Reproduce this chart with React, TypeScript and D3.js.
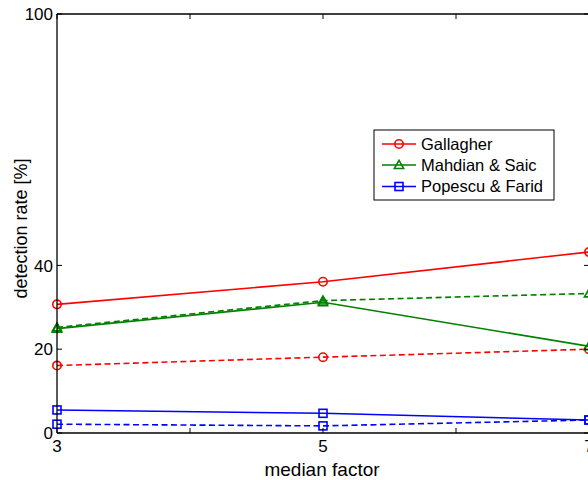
import React from "react";
import * as d3 from "d3";

const medianFactors = [3, 5, 7];
const xTicks = [3, 4, 5, 6, 7];
const xTickLabels = ["3", "", "5", "", "7"];
const yTicks = [0, 20, 40, 100];

const gallagherSolid = [30.7, 36.1, 43.2];
const gallagherDashed = [16.1, 18.1, 20.0];
const mahdianSolid = [24.9, 31.2, 20.7];
const mahdianDashed = [25.2, 31.6, 33.3];
const popescuSolid = [5.5, 4.7, 3.1];
const popescuDashed = [2.1, 1.7, 3.1];

type Marker = "circle" | "triangle" | "square";

const seriesList: { name: string; values: number[]; color: string; dashed: boolean; marker: Marker }[] = [
  { name: "Gallagher", values: gallagherSolid, color: "#ff0000", dashed: false, marker: "circle" },
  { name: "Gallagher", values: gallagherDashed, color: "#ff0000", dashed: true, marker: "circle" },
  { name: "Mahdian & Saic", values: mahdianSolid, color: "#008000", dashed: false, marker: "triangle" },
  { name: "Mahdian & Saic", values: mahdianDashed, color: "#008000", dashed: true, marker: "triangle" },
  { name: "Popescu & Farid", values: popescuSolid, color: "#0000ff", dashed: false, marker: "square" },
  { name: "Popescu & Farid", values: popescuDashed, color: "#0000ff", dashed: true, marker: "square" },
];

const legendEntries = [
  { name: "Gallagher", color: "#ff0000", marker: "circle" as Marker },
  { name: "Mahdian & Saic", color: "#008000", marker: "triangle" as Marker },
  { name: "Popescu & Farid", color: "#0000ff", marker: "square" as Marker },
];

const W = 588;
const H = 480;
const plot = { left: 57, top: 14, right: 589, bottom: 433 };
const font = "Liberation Sans, Arial, Helvetica, sans-serif";

function MarkerShape({ kind, x, y, color }: { kind: Marker; x: number; y: number; color: string }) {
  if (kind === "circle") {
    return <circle cx={x} cy={y} r={4.2} fill="none" stroke={color} strokeWidth={1.6} />;
  }
  if (kind === "square") {
    return <rect x={x - 4} y={y - 4} width={8} height={8} fill="none" stroke={color} strokeWidth={1.6} />;
  }
  const s = 4.6;
  const pts = `${x},${y - s} ${x - s},${y + s * 0.75} ${x + s},${y + s * 0.75}`;
  return <polygon points={pts} fill="none" stroke={color} strokeWidth={1.6} />;
}

export default function App() {
  const x = d3.scaleLinear().domain([3, 7]).range([plot.left, plot.right]);
  const y = d3.scaleLinear().domain([0, 100]).range([plot.bottom, plot.top]);
  const line = d3
    .line<number>()
    .x((_, i) => x(medianFactors[i]))
    .y((v) => y(v));

  const legend = { x: 374, y: 130, w: 180, h: 70 };
  const rowY = [144, 165, 186.5];

  return (
    <svg
      width={W}
      height={H}
      style={{ position: "absolute", left: 0, top: 0, background: "#fff" }}
      fontFamily={font}
    >
      <rect x={0} y={0} width={W} height={H} fill="#fff" />

      {/* series lines */}
      <g>
        {seriesList.map((s, k) => (
          <g key={k}>
            <path
              d={line(s.values) || ""}
              fill="none"
              stroke={s.color}
              strokeWidth={1.6}
              strokeDasharray={s.dashed ? "6,3.5" : undefined}
            />
            {s.values.map((v, i) => (
              <MarkerShape key={i} kind={s.marker} x={x(medianFactors[i])} y={y(v)} color={s.color} />
            ))}
          </g>
        ))}
      </g>

      {/* axes frame */}
      <g stroke="#000" strokeWidth={1.3} fill="none">
        <line x1={plot.left} y1={plot.top} x2={plot.right} y2={plot.top} />
        <line x1={plot.left} y1={plot.top} x2={plot.left} y2={plot.bottom} />
        <line x1={plot.left} y1={plot.bottom} x2={plot.right} y2={plot.bottom} />
        <line x1={plot.right} y1={plot.top} x2={plot.right} y2={plot.bottom} />
      </g>

      {/* y ticks */}
      <g>
        {yTicks.map((t) => (
          <g key={t}>
            <line x1={plot.left} x2={plot.left + 5} y1={y(t)} y2={y(t)} stroke="#000" strokeWidth={1} />
            <line x1={plot.right} x2={plot.right - 5} y1={y(t)} y2={y(t)} stroke="#000" strokeWidth={1} />
            <text x={plot.left - 4} y={y(t)} dy="0.36em" textAnchor="end" fontSize={17} fill="#000">
              {t}
            </text>
          </g>
        ))}
      </g>

      {/* x ticks */}
      <g>
        {xTicks.map((t, i) => (
          <g key={t}>
            <line x1={x(t)} x2={x(t)} y1={plot.bottom} y2={plot.bottom - 5} stroke="#000" strokeWidth={1} />
            <line x1={x(t)} x2={x(t)} y1={plot.top} y2={plot.top + 5} stroke="#000" strokeWidth={1} />
            {xTickLabels[i] && (
              <text x={x(t)} y={plot.bottom + 19} textAnchor="middle" fontSize={17} fill="#000">
                {xTickLabels[i]}
              </text>
            )}
          </g>
        ))}
      </g>

      {/* axis titles */}
      <text x={322} y={476} textAnchor="middle" fontSize={19} fill="#000">
        median factor
      </text>
      <text
        transform={`translate(27, ${(plot.top + plot.bottom) / 2 + 5}) rotate(-90)`}
        textAnchor="middle"
        fontSize={18}
        fill="#000"
      >
        detection rate [%]
      </text>

      {/* legend */}
      <g>
        <rect x={legend.x} y={legend.y} width={legend.w} height={legend.h} fill="#fff" stroke="#000" strokeWidth={1} />
        {legendEntries.map((e, i) => (
          <g key={e.name}>
            <line x1={382} x2={416} y1={rowY[i]} y2={rowY[i]} stroke={e.color} strokeWidth={1.6} />
            <MarkerShape kind={e.marker} x={399} y={rowY[i]} color={e.color} />
            <text x={421} y={rowY[i]} dy="0.36em" fontSize={16.5} fill="#000">
              {e.name}
            </text>
          </g>
        ))}
      </g>
    </svg>
  );
}
